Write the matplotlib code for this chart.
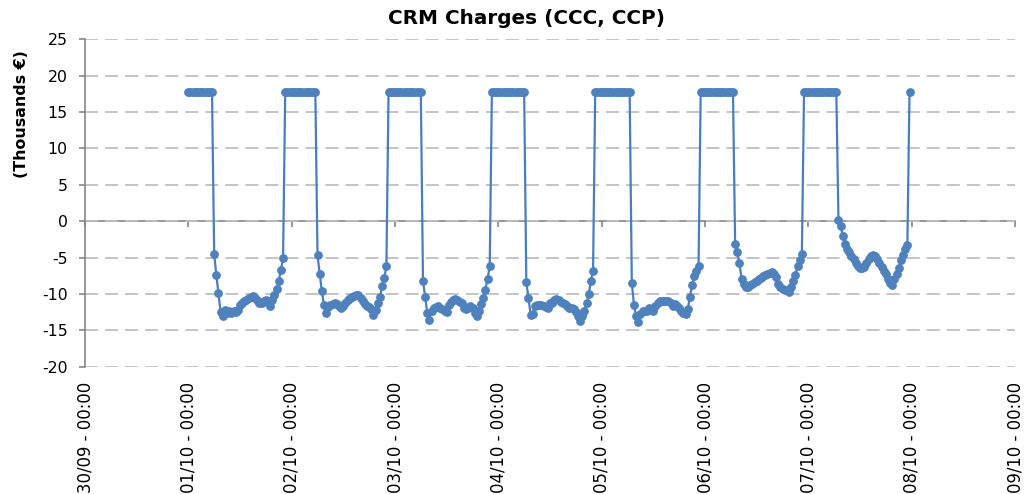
import numpy as np
import pandas as pd
import matplotlib
matplotlib.use("Agg")
import matplotlib.pyplot as plt
import matplotlib.dates as mdates

# Half-hourly CRM charges (thousands EUR), one list per day starting 00:00
day_0110 = [17.7, 17.7, 17.7, 17.7, 17.7, 17.7, 17.7, 17.7, 17.7, 17.7, 17.7, 17.7,
            -4.5, -7.4, -9.9, -12.5, -13.1, -12.2, -12.6, -12.4, -12.6, -12.4, -12.5, -12.2,
            -11.5, -11.3, -11.0, -10.8, -10.6, -10.4, -10.3, -10.5, -10.8, -11.2, -11.3, -11.0,
            -10.9, -11.0, -11.6, -10.9, -10.2, -9.3, -8.2, -6.7, -5.1, 17.7, 17.7, 17.7]
day_0210 = [17.7, 17.7, 17.7, 17.7, 17.7, 17.7, 17.7, 17.7, 17.7, 17.7, 17.7, 17.7,
            -4.7, -7.2, -9.6, -11.5, -12.6, -11.8, -11.5, -11.4, -11.2, -11.4, -11.7, -12.0,
            -11.6, -11.3, -10.9, -10.6, -10.4, -10.3, -10.2, -10.2, -10.6, -11.0, -11.4, -11.6,
            -11.8, -12.1, -12.9, -12.2, -11.3, -10.4, -8.9, -7.8, -6.2, 17.7, 17.7, 17.7]
day_0310 = [17.7, 17.7, 17.7, 17.7, 17.7, 17.7, 17.7, 17.7, 17.7, 17.7, 17.7, 17.7,
            17.7, -8.2, -10.4, -12.6, -13.6, -12.3, -12.0, -11.8, -11.6, -11.9, -12.1, -12.3,
            -12.5, -11.5, -11.1, -10.8, -10.7, -10.9, -11.1, -11.3, -11.9, -12.1, -12.0, -11.6,
            -11.9, -12.6, -13.0, -12.3, -11.4, -10.5, -9.4, -7.9, -6.2, 17.7, 17.7, 17.7]
day_0410 = [17.7, 17.7, 17.7, 17.7, 17.7, 17.7, 17.7, 17.7, 17.7, 17.7, 17.7, 17.7,
            17.7, -8.4, -10.5, -12.9, -12.7, -11.6, -11.5, -11.5, -11.5, -11.6, -11.8, -11.9,
            -11.3, -11.2, -10.8, -10.7, -10.8, -11.1, -11.2, -11.4, -11.6, -11.9, -12.0, -12.1,
            -12.5, -13.0, -13.7, -13.0, -12.3, -11.2, -10.0, -8.2, -6.8, 17.7, 17.7, 17.7]
day_0510 = [17.7, 17.7, 17.7, 17.7, 17.7, 17.7, 17.7, 17.7, 17.7, 17.7, 17.7, 17.7,
            17.7, 17.7, -8.5, -11.5, -13.0, -13.8, -12.7, -12.3, -12.3, -12.3, -12.0, -12.1,
            -12.3, -11.6, -11.3, -11.0, -11.0, -11.0, -11.0, -11.0, -11.3, -11.6, -11.4, -11.6,
            -11.9, -12.3, -12.6, -12.7, -12.1, -10.4, -8.8, -7.6, -6.8, -6.2, 17.7, 17.7]
day_0610 = [17.7, 17.7, 17.7, 17.7, 17.7, 17.7, 17.7, 17.7, 17.7, 17.7, 17.7, 17.7,
            17.7, 17.7, -3.2, -4.3, -5.8, -7.9, -8.7, -9.0, -9.0, -8.8, -8.6, -8.4,
            -8.2, -8.0, -7.8, -7.6, -7.4, -7.2, -7.1, -7.0, -7.2, -7.7, -8.6, -9.1,
            -9.3, -9.4, -9.5, -9.7, -9.0, -8.2, -7.4, -6.2, -5.4, -4.5, 17.7, 17.7]
day_0710 = [17.7, 17.7, 17.7, 17.7, 17.7, 17.7, 17.7, 17.7, 17.7, 17.7, 17.7, 17.7,
            17.7, 17.7, 0.1, -0.6, -2.1, -3.2, -3.8, -4.3, -4.8, -5.2, -5.7, -6.1,
            -6.4, -6.5, -6.3, -5.8, -5.2, -4.8, -4.6, -4.8, -5.2, -5.7, -6.3, -6.8,
            -7.2, -7.9, -8.5, -8.8, -8.0, -7.2, -6.4, -5.4, -4.6, -3.8, -3.3, 17.7]

start_time = "2013-10-01 00:00"
axis_start = "2013-09-30"
axis_end = "2013-10-09"
title = "CRM Charges (CCC, CCP)"
ylabel = "(Thousands €)"

plt.rcParams["axes.unicode_minus"] = False

values = np.array(day_0110 + day_0210 + day_0310 + day_0410 + day_0510 + day_0610 + day_0710)
times = pd.date_range(start_time, periods=len(values), freq="30min")

W, H = 1033, 494
fig = plt.figure(figsize=(W / 100, H / 100), dpi=100)
ax = fig.add_axes([85 / W, 1 - 366.7 / H, (1015 - 85) / W, (366.7 - 39.2) / H])

ax.plot(times, values, color="#4A7EBB", lw=1.6, marker="o", ms=5.3,
        mfc="#4F81BD", mec="#4F81BD", zorder=3)

ax.set_ylim(-20, 25)
ax.set_yticks(np.arange(-20, 26, 5))
ax.set_xlim(pd.Timestamp(axis_start), pd.Timestamp(axis_end))
ax.xaxis.set_major_locator(mdates.DayLocator())
ax.xaxis.set_major_formatter(mdates.DateFormatter("%d/%m - %H:%M"))

# dashed horizontal gridlines like excel
ax.grid(axis="y", color="#BFBFBF", linestyle=(0, (7.2, 3.9)), lw=1.3, zorder=0)

for s in ["top", "right", "bottom"]:
    ax.spines[s].set_visible(False)
ax.spines["left"].set_color("#868686")
ax.spines["left"].set_linewidth(1.2)

ax.tick_params(axis="x", length=0, labelrotation=90, labelsize=11.9, pad=11)
ax.tick_params(axis="y", length=4.5, direction="out", color="#868686", width=1.2,
               labelsize=11.3, pad=8)

# category axis crosses at zero
sec = ax.secondary_xaxis(20 / 45)
sec.xaxis.set_major_locator(mdates.DayLocator())
sec.tick_params(axis="x", length=4, direction="out", color="#868686", width=1.2,
                labelbottom=False, labeltop=False)
for s in ["top", "bottom"]:
    sec.spines[s].set_color("#868686")
    sec.spines[s].set_linewidth(1.2)

fig.text(527 / W, 1 - 18 / H, title, ha="center", va="center",
         fontsize=14.4, fontweight="bold")
fig.text(22 / W, 1 - 114 / H, ylabel, ha="center", va="center",
         rotation=90, fontsize=11.4, fontweight="bold")

fig.savefig("out.png", dpi=100)
